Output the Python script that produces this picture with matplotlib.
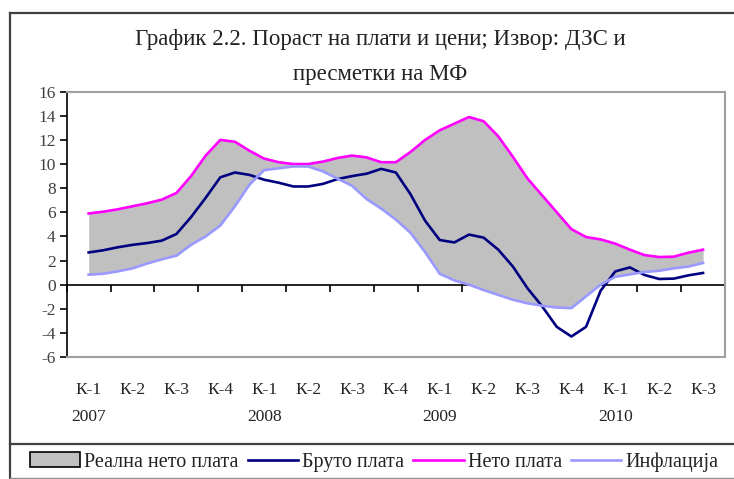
import numpy as np
import matplotlib
matplotlib.use("Agg")
import matplotlib.pyplot as plt
from matplotlib.lines import Line2D

plt.rcParams['font.family'] = ['Liberation Serif', 'DejaVu Serif']
plt.rcParams['axes.unicode_minus'] = False

# monthly readings, first month = middle of К-1 2007, last = middle of К-3 2010
neto = [5.9, 6.05, 6.25, 6.5, 6.75, 7.05, 7.6, 9.0, 10.7, 12.0, 11.85, 11.1,
        10.45, 10.15, 10.0, 10.0, 10.2, 10.5, 10.7, 10.55, 10.15, 10.15, 11.0,
        12.0, 12.8, 13.35, 13.9, 13.55, 12.3, 10.6, 8.8, 7.4, 6.0, 4.6, 3.95,
        3.75, 3.4, 2.9, 2.45, 2.29, 2.32, 2.65, 2.9]
bruto = [2.67, 2.85, 3.1, 3.3, 3.45, 3.65, 4.2, 5.6, 7.2, 8.9, 9.3, 9.1,
         8.7, 8.45, 8.14, 8.14, 8.35, 8.75, 9.0, 9.2, 9.6, 9.3, 7.5,
         5.3, 3.7, 3.5, 4.15, 3.9, 2.9, 1.5, -0.3, -1.8, -3.5, -4.3, -3.5,
         -0.5, 1.1, 1.43, 0.8, 0.47, 0.5, 0.77, 0.97]
inflacija = [0.83, 0.9, 1.1, 1.35, 1.75, 2.1, 2.4, 3.3, 4.0, 4.9, 6.5, 8.3,
             9.5, 9.65, 9.8, 9.8, 9.4, 8.8, 8.2, 7.1, 6.3, 5.4, 4.3,
             2.7, 0.9, 0.35, 0.0, -0.45, -0.85, -1.25, -1.55, -1.75, -1.9, -1.95, -0.97,
             0.0, 0.65, 0.85, 1.05, 1.15, 1.35, 1.5, 1.8]

quarters = ['К-1', 'К-2', 'К-3', 'К-4'] * 3 + ['К-1', 'К-2', 'К-3']
years = ['2007', '2008', '2009', '2010']

W, H = 734, 479
fig = plt.figure(figsize=(W / 100, H / 100), dpi=100)
fig.patch.set_facecolor('white')

# plot area in pixels
left, right, top, bottom = 66.7, 725, 91.7, 357
ax = fig.add_axes([left / W, 1 - bottom / H, (right - left) / W, (bottom - top) / H])

x = np.arange(len(neto)) / 3.0
area = ax.fill_between(x, inflacija, neto, color='#C0C0C0', linewidth=0,
                       label='Реална нето плата')
l1, = ax.plot(x, bruto, color='#000080', lw=1.9, label='Бруто плата')
l2, = ax.plot(x, neto, color='#FF00FF', lw=1.9, label='Нето плата')
l3, = ax.plot(x, inflacija, color='#9999FF', lw=1.9, label='Инфлација')

ax.set_xlim(-0.5, 14.5)
ax.set_ylim(-6, 16)
ax.set_yticks(range(-6, 17, 2))
ax.tick_params(axis='y', direction='out', length=5, width=1.2, labelsize=12.5,
               labelcolor='#404040', pad=3)

labels = []
qi = 0
for i, q in enumerate(quarters):
    if q == 'К-1':
        labels.append(q + '\n' + years[qi])
        qi += 1
    else:
        labels.append(q)
ax.set_xticks(range(len(quarters)))
ax.set_xticklabels(labels, fontsize=12.5, color='#222222')
for t in ax.get_xticklabels():
    t.set_linespacing(1.9)
ax.tick_params(axis='x', length=0, pad=18)

for s in ['top', 'right', 'bottom']:
    ax.spines[s].set_color('#A0A0A0')
    ax.spines[s].set_linewidth(1.5)
ax.spines['left'].set_color('black')
ax.spines['left'].set_linewidth(1.2)

# category axis crossing at zero
sec = ax.secondary_xaxis(0, transform=ax.transData)
sec.set_xticks(np.arange(-0.5, 15, 1.0))
sec.set_xticklabels([])
sec.tick_params(direction='out', length=5, width=1.2, color='black')
sec.spines['bottom'].set_color('black')
sec.spines['bottom'].set_linewidth(1.2)

fig.text(380 / W, 1 - 57 / H,
         'График 2.2. Пораст на плати и цени; Извор: ДЗС и\nпресметки на МФ',
         ha='center', va='center', fontsize=16.5, color='#222222', linespacing=1.85)

# frame lines of the whole chart
def px_line(xs, ys, **kw):
    fig.add_artist(Line2D([v / W for v in xs], [1 - v / H for v in ys],
                          transform=fig.transFigure, **kw))

px_line([9.5, 9.5], [12.7, 479], color='#404040', lw=1.6)
px_line([9.5, 734], [12.7, 12.7], color='#404040', lw=1.6)
px_line([9.5, 734], [444, 444], color='#404040', lw=1.6)
px_line([9.5, 734], [477.5, 477.5], color='#909090', lw=1.0)

leg = fig.legend(handles=[area, l1, l2, l3], loc='center', ncol=4,
                 bbox_to_anchor=(374 / W, 1 - 462 / H), frameon=False,
                 fontsize=14.5, handlelength=2.5, handleheight=0.75,
                 handletextpad=0.2, columnspacing=0.45, borderpad=0)
leg.legend_handles[0].set_edgecolor('black')
leg.legend_handles[0].set_linewidth(1.2)
for t in leg.get_texts():
    t.set_color('#222222')

fig.savefig('out.png', dpi=100)
